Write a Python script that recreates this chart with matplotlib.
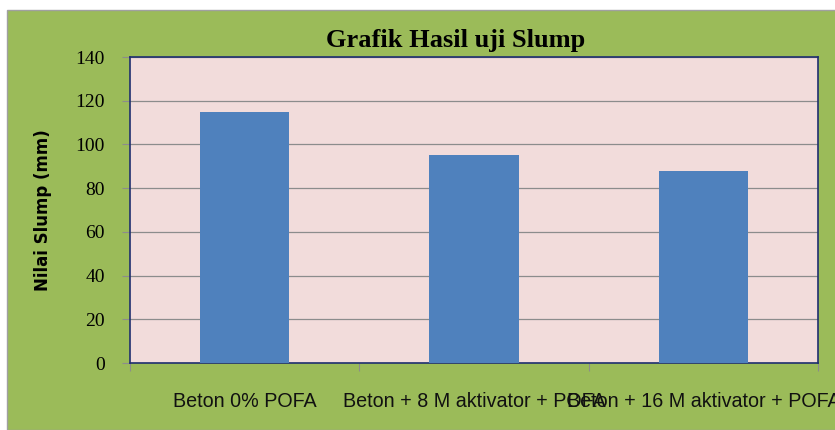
import matplotlib
matplotlib.use("Agg")
import matplotlib.pyplot as plt
from matplotlib.patches import Rectangle

categories = ["Beton 0% POFA", "Beton + 8 M aktivator + POFA", "Beton + 16 M aktivator + POFA"]
slump = [115, 95, 88]
yticks = [0, 20, 40, 60, 80, 100, 120, 140]

fig = plt.figure(figsize=(8.35, 4.3), dpi=100)
fig.patch.set_facecolor("white")
# green chart area background
fig.patches.append(Rectangle((7 / 835, 0), 1, 420 / 430, transform=fig.transFigure,
                             facecolor="#9BBB59", edgecolor="#A0A0A0", linewidth=1, zorder=-10))

ax = fig.add_axes([130 / 835, 67 / 430, 688 / 835, 306 / 430])
ax.set_facecolor("#F2DCDB")

x = range(len(categories))
ax.bar(x, slump, width=0.39, color="#4F81BD", zorder=3)

ax.set_xlim(-0.5, 2.5)
ax.set_ylim(0, 140)
ax.set_yticks(yticks)
ax.yaxis.grid(True, color="#8C8C8C", linewidth=0.9, zorder=0)

# category boundaries get the tick marks, names sit on minor ticks
ax.set_xticks([-0.5, 0.5, 1.5, 2.5])
ax.set_xticklabels([])
ax.set_xticks(list(x), minor=True)
ax.set_xticklabels(categories, minor=True, fontsize=14.2, fontfamily="Liberation Sans", color="#111111")
ax.tick_params(axis="x", which="minor", length=0, pad=21)
ax.tick_params(axis="x", which="major", length=6, color="#8C8C8C", direction="out")
ax.tick_params(axis="y", length=6, color="#8C8C8C", labelsize=14, pad=12)
for lbl in ax.get_yticklabels():
    lbl.set_fontfamily("Liberation Serif")

for s in ax.spines.values():
    s.set_color("#1F2F6F")
    s.set_linewidth(1.2)

ax.set_ylabel("Nilai Slump (mm)", fontsize=12, fontweight="bold")
ax.yaxis.set_label_coords(-0.113, 0.5)
fig.text(456 / 835, 1 - 40 / 430, "Grafik Hasil uji Slump", fontsize=19, fontweight="bold",
         fontfamily="Liberation Serif", ha="center", va="center")

fig.savefig("out.png", dpi=100)
